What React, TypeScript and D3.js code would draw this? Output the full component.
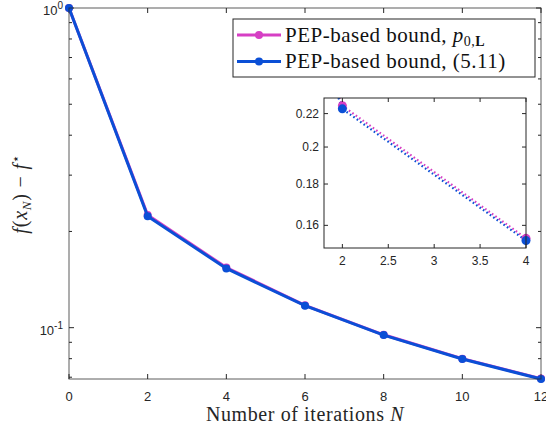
import React from "react";
import * as d3 from "d3";

const iterations = [0, 2, 4, 6, 8, 10, 12];
const pepP0L = [1.0, 0.225, 0.1542, 0.1175, 0.095, 0.08, 0.0693];
const pep511 = [1.0, 0.223, 0.1532, 0.1172, 0.0948, 0.0798, 0.0691];
const xTicks = [0, 2, 4, 6, 8, 10, 12];
const yMinor = [0.07, 0.08, 0.09, 0.2, 0.3, 0.4, 0.5, 0.6, 0.7, 0.8, 0.9];
const insetXTicks = [2, 2.5, 3, 3.5, 4];
const insetYTicks = [0.16, 0.18, 0.2, 0.22];
const legendLabels = ["PEP-based bound, ", "PEP-based bound, (5.11)"];

const PINK = "#d63fc4";
const BLUE = "#0b4fd6";
const AXIS = "#262626";
const SANS = "'Liberation Sans', Arial, sans-serif";
const SERIF = "'Liberation Serif', 'Times New Roman', serif";

export default function App() {
  const W = 546, H = 431;
  const x = d3.scaleLinear().domain([0, 12]).range([69, 541]);
  const y = d3.scaleLog().domain([0.0691, 1]).range([379, 8]);
  const xi = d3.scaleLinear().domain([1.8, 4]).range([324, 526]);
  const yi = d3.scaleLog().domain([0.15, 0.23]).range([248, 98]);

  const line = d3
    .line<[number, number]>()
    .x((d) => x(d[0]))
    .y((d) => y(d[1]));
  const lineI = d3
    .line<[number, number]>()
    .x((d) => xi(d[0]))
    .y((d) => yi(d[1]));

  const dP: [number, number][] = iterations.map((n, i) => [n, pepP0L[i]]);
  const dB: [number, number][] = iterations.map((n, i) => [n, pep511[i]]);

  const [x0, x1] = x.range();
  const [yb, yt] = y.range();
  const [ix0, ix1] = xi.range();
  const [iyb, iyt] = yi.range();
  const tl = 5;

  return (
    <svg width={W} height={H} style={{ position: "absolute", left: 0, top: 0, background: "#fff" }}>
      <defs>
        <clipPath id="mainClip">
          <rect x={x0 - 6} y={yt - 6} width={x1 - x0 + 12} height={yb - yt + 12} />
        </clipPath>
        <clipPath id="insetClip">
          <rect x={ix0} y={iyt} width={ix1 - ix0} height={iyb - iyt} />
        </clipPath>
      </defs>
      <rect x={0} y={0} width={W} height={H} fill="#fff" />

      {/* main ticks */}
      <g stroke={AXIS} strokeWidth={1}>
        {xTicks.map((t) => (
          <g key={"xt" + t}>
            <line x1={x(t)} x2={x(t)} y1={yb} y2={yb - tl} />
            <line x1={x(t)} x2={x(t)} y1={yt} y2={yt + tl} />
          </g>
        ))}
        {[0.1, 1].map((t) => (
          <g key={"ym" + t}>
            <line x1={x0} x2={x0 + tl} y1={y(t)} y2={y(t)} />
            <line x1={x1} x2={x1 - tl} y1={y(t)} y2={y(t)} />
          </g>
        ))}
        {yMinor.map((t) => (
          <g key={"yn" + t}>
            <line x1={x0} x2={x0 + 3} y1={y(t)} y2={y(t)} />
            <line x1={x1} x2={x1 - 3} y1={y(t)} y2={y(t)} />
          </g>
        ))}
      </g>

      {/* main data */}
      <g clipPath="url(#mainClip)">
        <path d={line(dP) || ""} fill="none" stroke={PINK} strokeWidth={3} />
        {dP.map((d, i) => (
          <circle key={"pp" + i} cx={x(d[0])} cy={y(d[1])} r={4} fill={PINK} />
        ))}
        <path d={line(dB) || ""} fill="none" stroke={BLUE} strokeWidth={3} />
        {dB.map((d, i) => (
          <circle key={"bp" + i} cx={x(d[0])} cy={y(d[1])} r={4} fill={BLUE} />
        ))}
      </g>

      {/* main frame */}
      <rect x={x0} y={yt} width={x1 - x0} height={yb - yt} fill="none" stroke={AXIS} strokeWidth={1} opacity={0.75} />

      {/* main tick labels */}
      <g fontFamily={SANS} fontSize={13} fill={AXIS}>
        {xTicks.map((t) => (
          <text key={"xl" + t} x={x(t)} y={yb + 22} textAnchor="middle">
            {t}
          </text>
        ))}
        <text x={x0 - 6} y={y(1) + 7} textAnchor="end">
          10<tspan dy={-6} fontSize={10}>0</tspan>
        </text>
        <text x={x0 - 6} y={y(0.1) + 7} textAnchor="end">
          10<tspan dy={-6} fontSize={10}>-1</tspan>
        </text>
      </g>

      {/* axis titles */}
      <text
        x={(x0 + x1) / 2}
        y={421}
        textAnchor="middle"
        fontFamily={SERIF}
        fontSize={20}
        letterSpacing={0.6}
        fill={AXIS}
      >
        Number of iterations <tspan fontStyle="italic">N</tspan>
      </text>
      <text
        transform={`translate(27, 194) rotate(-90)`}
        textAnchor="middle"
        fontFamily={SERIF}
        fontSize={20}
        letterSpacing={0.8}
        fill={AXIS}
      >
        <tspan fontStyle="italic">f</tspan>(<tspan fontStyle="italic">x</tspan>
        <tspan fontStyle="italic" fontSize={13} dy={4}>N</tspan>
        <tspan dy={-4}>)  −  </tspan>
        <tspan fontStyle="italic">f</tspan>
        <tspan fontSize={13} dy={-7}>⋆</tspan>
      </text>

      {/* inset */}
      <rect x={ix0} y={iyt} width={ix1 - ix0} height={iyb - iyt} fill="#fff" />
      <g clipPath="url(#insetClip)">
        <path d={lineI(dP) || ""} fill="none" stroke={PINK} strokeWidth={2.2} strokeDasharray="1.6 2.6" />
        <path d={lineI(dB) || ""} fill="none" stroke={BLUE} strokeWidth={2.2} strokeDasharray="1.6 2.6" />
      </g>
      {dP.filter((d) => d[0] >= 2 && d[0] <= 4).map((d, i) => (
        <circle key={"ip" + i} cx={xi(d[0])} cy={yi(d[1])} r={4.5} fill={PINK} />
      ))}
      {dB.filter((d) => d[0] >= 2 && d[0] <= 4).map((d, i) => (
        <circle key={"ib" + i} cx={xi(d[0])} cy={yi(d[1])} r={4.5} fill={BLUE} />
      ))}
      <g stroke={AXIS} strokeWidth={1}>
        {insetXTicks.map((t) => (
          <g key={"ixt" + t}>
            <line x1={xi(t)} x2={xi(t)} y1={iyb} y2={iyb - 4} />
            <line x1={xi(t)} x2={xi(t)} y1={iyt} y2={iyt + 4} />
          </g>
        ))}
        {insetYTicks.map((t) => (
          <g key={"iyt" + t}>
            <line x1={ix0} x2={ix0 + 4} y1={yi(t)} y2={yi(t)} />
            <line x1={ix1} x2={ix1 - 4} y1={yi(t)} y2={yi(t)} />
          </g>
        ))}
      </g>
      <rect x={ix0} y={iyt} width={ix1 - ix0} height={iyb - iyt} fill="none" stroke={AXIS} strokeWidth={1} />
      <g fontFamily={SANS} fontSize={12} fill={AXIS}>
        {insetXTicks.map((t) => (
          <text key={"ixl" + t} x={xi(t)} y={iyb + 17} textAnchor="middle">
            {t}
          </text>
        ))}
        {insetYTicks.map((t) => (
          <text key={"iyl" + t} x={ix0 - 5} y={yi(t) + 4} textAnchor="end">
            {t}
          </text>
        ))}
      </g>

      {/* legend */}
      <rect x={233} y={19} width={302} height={58} fill="#fff" stroke={AXIS} strokeWidth={1} />
      <g>
        <line x1={237} x2={281} y1={35} y2={35} stroke={PINK} strokeWidth={3} />
        <circle cx={259} cy={35} r={4} fill={PINK} />
        <line x1={237} x2={281} y1={61.5} y2={61.5} stroke={BLUE} strokeWidth={3} />
        <circle cx={259} cy={61.5} r={4} fill={BLUE} />
      </g>
      <g fontFamily={SERIF} fontSize={21} fill="#111" letterSpacing={0.5}>
        <text x={285} y={42}>
          {legendLabels[0]}
          <tspan fontStyle="italic">p</tspan>
          <tspan fontSize={14} dy={4}>0,</tspan>
          <tspan fontSize={14} fontWeight="bold">L</tspan>
        </text>
        <text x={285} y={68}>{legendLabels[1]}</text>
      </g>
    </svg>
  );
}
